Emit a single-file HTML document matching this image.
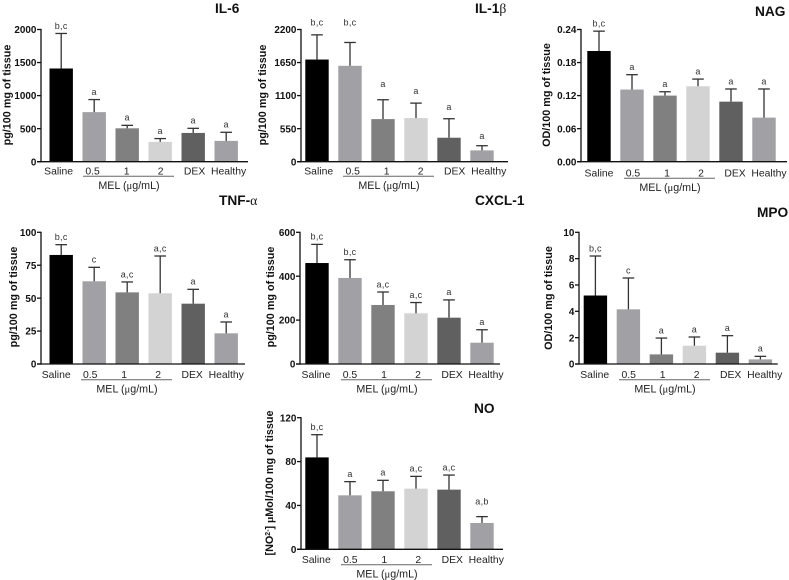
<!DOCTYPE html>
<html lang="en">
<head>
<meta charset="utf-8">
<title>Cytokine and enzyme panels</title>
<style>
html,body{margin:0;padding:0;background:#fff;width:789px;height:580px;overflow:hidden}
#figure{display:block;width:789px;height:580px;filter:blur(.35px)}
text{font-family:"Liberation Sans",sans-serif}
</style>
</head>
<body>
<svg id="figure" xmlns="http://www.w3.org/2000/svg" width="789" height="580" viewBox="0 0 789 580"></svg>
<script>
const categories = ["Saline", "0.5", "1", "2", "DEX", "Healthy"];
const groupTitle = "MEL (";
const barColors = ["#000000", "#a0a0a5", "#808080", "#d3d3d3", "#606060", "#a0a0a5"];

const il6Means = [1410, 750, 505, 300, 435, 315];
const il6Upper = [1940, 940, 550, 350, 505, 445];
const il6Ticks = ["0", "500", "1000", "1500", "2000"];
const il6Letters = ["b,c", "a", "a", "a", "a", "a"];

const il1bMeans = [1700, 1596, 709, 726, 399, 188];
const il1bUpper = [2111, 1984, 1031, 975, 715, 266];
const il1bTicks = ["0", "550", "1100", "1650", "2200"];
const il1bLetters = ["b,c", "b,c", "a", "a", "a", "a"];
const il1bLetterLift = [205, 333, 262, 205, 195, 162];

const nagMeans = [0.201, 0.131, 0.12, 0.137, 0.109, 0.08];
const nagUpper = [0.237, 0.158, 0.127, 0.15, 0.132, 0.132];
const nagTicks = ["0.00", "0.06", "0.12", "0.18", "0.24"];
const nagLetters = ["b,c", "a", "a", "a", "a", "a"];

const tnfMeans = [82.8, 62.8, 54.4, 53.7, 45.8, 23.3];
const tnfUpper = [90.6, 73.4, 62.3, 82, 56.7, 31.9];
const tnfTicks = ["0", "25", "50", "75", "100"];
const tnfLetters = ["b,c", "c", "a,c", "a,c", "a", "a"];

const cxclMeans = [460, 392, 269, 231, 211, 97];
const cxclUpper = [545, 475, 328, 280, 292, 156];
const cxclTicks = ["0", "200", "400", "600"];
const cxclLetters = ["b,c", "b,c", "a,c", "a,c", "a", "a"];

const mpoMeans = [5.2, 4.15, 0.73, 1.39, 0.86, 0.35];
const mpoUpper = [8.2, 6.53, 1.97, 2.05, 2.15, 0.58];
const mpoTicks = ["0", "2", "4", "6", "8", "10"];
const mpoLetters = ["b,c", "c", "a", "a", "a", "a"];

const noMeans = [83.8, 49.2, 52.9, 55.3, 54.4, 24];
const noUpper = [104.5, 61.7, 62.9, 66.5, 67.7, 29.8];
const noTicks = ["0", "40", "80", "120"];
const noLetters = ["b,c", "a", "a", "a,c", "a,c", "a,b"];
const noLetterLift = [7, 7, 7, 7, 7, 14];

const panels = [
  {id:"il-6", title:["IL-6"], means:il6Means, upper:il6Upper, ticks:il6Ticks, letters:il6Letters,
   yTitle:"pg/100 mg of tissue", ax:41, top:29.5, base:161.7, right:248, bar0:49.5, labelShift:-2.6, catDy:9, lineDx:42,
   titleX:215, titleY:13, yTitleX:10.5, yTitleY:95},
  {id:"il-1b", title:["IL-1","β"], means:il1bMeans, upper:il1bUpper, ticks:il1bTicks, letters:il1bLetters, lift:il1bLetterLift,
   yTitle:"pg/100 mg of tissue", ax:301, top:29.5, base:161.7, right:508, bar0:305.3, labelShift:1.7, catDy:9, lineDx:42,
   titleX:475, titleY:13, yTitleX:266, yTitleY:95},
  {id:"nag", title:["NAG"], means:nagMeans, upper:nagUpper, ticks:nagTicks, letters:nagLetters,
   yTitle:"OD/100 mg of tissue", ax:581, top:29.5, base:161.7, right:787, bar0:587.3, labelShift:0, catDy:11, lineDx:43,
   titleX:755, titleY:16, yTitleX:550, yTitleY:95},
  {id:"tnf-alpha", title:["TNF-","α"], means:tnfMeans, upper:tnfUpper, ticks:tnfTicks, letters:tnfLetters,
   yTitle:"pg/100 mg of tissue", ax:41, top:232.3, base:364, right:245, bar0:49.5, labelShift:-5, catDy:10.3, lineDx:40,
   titleX:219, titleY:205, yTitleX:17, yTitleY:297},
  {id:"cxcl-1", title:["CXCL-1"], means:cxclMeans, upper:cxclUpper, ticks:cxclTicks, letters:cxclLetters,
   yTitle:"pg/100 mg of tissue", ax:300, top:232.3, base:364, right:500, bar0:305.3, labelShift:-1, catDy:10.3, lineDx:41,
   titleX:475, titleY:205, yTitleX:274, yTitleY:297},
  {id:"mpo", title:["MPO"], means:mpoMeans, upper:mpoUpper, ticks:mpoTicks, letters:mpoLetters,
   yTitle:"OD/100 mg of tissue", ax:579, top:232.3, base:364, right:777.7, bar0:583.7, labelShift:-0.7, catDy:10.3, lineDx:40,
   titleX:757, titleY:217, yTitleX:552, yTitleY:298},
  {id:"no", title:["NO"], means:noMeans, upper:noUpper, ticks:noTicks, letters:noLetters, lift:noLetterLift,
   yTitle:null, ax:301, top:417.7, base:549.3, right:503, bar0:305.3, labelShift:-0.7, catDy:10, lineDx:40,
   titleX:474, titleY:413, yTitleX:273, yTitleY:483}
];

const NS = "http://www.w3.org/2000/svg";
const root = document.getElementById("figure");
const BAR_WIDTH = 23.4, BAR_STEP = 33, LABEL_STEP = 34, CAP_HALF = 5.8;

function make(tag, attrs, parent, text) {
  const el = document.createElementNS(NS, tag);
  for (const k in attrs) el.setAttribute(k, attrs[k]);
  if (text !== undefined) el.textContent = text;
  parent.appendChild(el);
  return el;
}

panels.forEach(function (p) {
  const maxV = Number(p.ticks[p.ticks.length - 1]);
  const yScale = function (v) { return p.base - (v / maxV) * (p.base - p.top); };
  const xBar = function (i) { return p.bar0 + i * BAR_STEP; };

  const g = make("g", {}, root);
  
  

  const title = make("text", {x:p.titleX, y:p.titleY, "font-size":"13.7", "font-weight":"bold", fill:"#111"}, g, p.title[0]);
  
  
  if (p.title[1]) {
    const greek = make("tspan", {style:'font-family:"Liberation Serif",serif;font-weight:normal'}, title, p.title[1]);
    
    
  }

  const yt = make("text", {transform:"translate(" + p.yTitleX + "," + p.yTitleY + ") rotate(-90)", "text-anchor":"middle", "font-size":"10.8", "font-weight":"bold", fill:"#111"}, g, p.yTitle || "[NO");
  
  
  if (!p.yTitle) {
    make("tspan", {"font-size":"7", dy:"-3"}, yt, "2-");
    make("tspan", {dy:"3"}, yt, "] ");
    make("tspan", {style:'font-family:"Liberation Serif",serif', "font-weight":"bold"}, yt, "μ");
    make("tspan", {}, yt, "Mol/100 mg of tissue");
  }

  p.means.forEach(function (m, i) {
    const bar = make("rect", {x:xBar(i), y:yScale(m), width:BAR_WIDTH, height:p.base - yScale(m), fill:barColors[i]}, g);
    
    

    const cx = xBar(i) + BAR_WIDTH / 2;
    const errTop = yScale(p.upper[i]);
    const stem = make("line", {x1:cx, x2:cx, y1:yScale(m), y2:errTop, stroke:"#333", "stroke-width":"1.3"}, g);
    
    
    const cap = make("line", {x1:cx - CAP_HALF, x2:cx + CAP_HALF, y1:errTop, y2:errTop, stroke:"#333", "stroke-width":"1.3"}, g);
    
    

    const liftPx = p.lift ? (p.lift[i] / maxV) * (p.base - p.top) : 7.7;
    const letter = make("text", {x:cx, y:errTop - liftPx + 3, "text-anchor":"middle", "font-size":"9", "letter-spacing":".3", fill:"#333"}, g, p.letters[i]);
    
    

    const label = make("text", {x:xBar(0) + BAR_WIDTH / 2 + p.labelShift + i * LABEL_STEP, y:p.base + p.catDy + 3.7, "text-anchor":"middle", "font-size":"10.4", fill:"#222"}, g, categories[i]);
    
    
  });

  const yAxis = make("line", {x1:p.ax, x2:p.ax, y1:p.top - 0.6, y2:p.base + 0.6, stroke:"#111", "stroke-width":"1.3"}, g);
  
  
  const xAxis = make("line", {x1:p.ax - 4, x2:p.right, y1:p.base, y2:p.base, stroke:"#111", "stroke-width":"1.3"}, g);
  
  

  p.ticks.forEach(function (t) {
    const y = yScale(Number(t));
    const tick = make("line", {x1:p.ax - 4, x2:p.ax, y1:y, y2:y, stroke:"#111", "stroke-width":"1.3"}, g);
    
    
    const tl = make("text", {x:p.ax - 4.6, y:y + 3.6, "text-anchor":"end", "font-size":"9.9", "font-weight":"bold", fill:"#111"}, g, t);
    
    
  });

  const lineY = p.base + p.catDy + 5.5;
  const lineX = p.ax + p.lineDx;
  const bracket = make("line", {x1:lineX, x2:lineX + 91, y1:lineY, y2:lineY, stroke:"#666", "stroke-width":"1"}, g);
  
  
  const mel = make("text", {x:lineX + 46, y:lineY + 12.8, "text-anchor":"middle", "font-size":"10.7", fill:"#222"}, g, groupTitle);
  
  
  make("tspan", {style:'font-family:"Liberation Serif",serif'}, mel, "μ");
  make("tspan", {}, mel, "g/mL)");
});
</script>
</body>
</html>
